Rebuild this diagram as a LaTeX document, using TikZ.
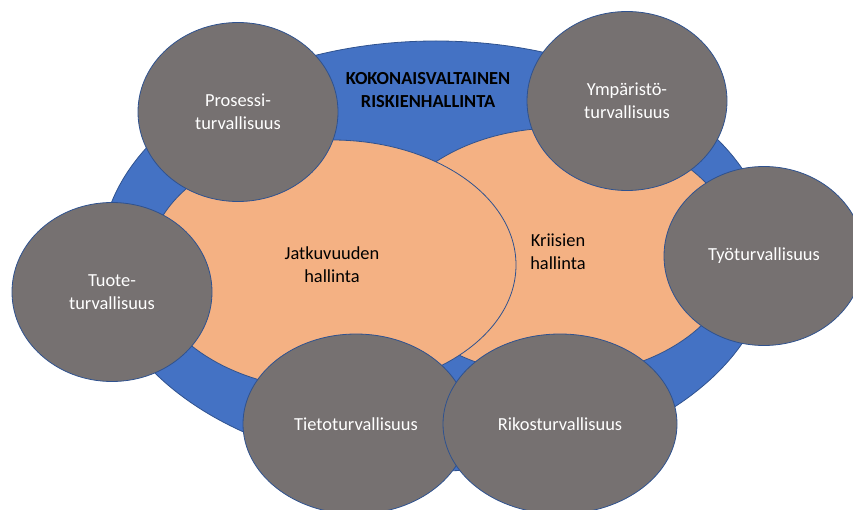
\documentclass[tikz,border=0pt]{standalone}
\usepackage{fontspec}
\setmainfont{Carlito}
\usetikzlibrary{shapes.geometric}

\definecolor{ringblue}{HTML}{4472C4}
\definecolor{edgeblue}{HTML}{2F528F}
\definecolor{areaorange}{HTML}{F4B183}
\definecolor{topicgray}{HTML}{767171}

\begin{document}
\begin{tikzpicture}[x=1pt, y=-1pt,
  every node/.style={font=\fontsize{18.4}{23}\selectfont},
  ovalbase/.style={ellipse, draw=edgeblue, line width=0.8pt, inner sep=0pt, align=center},
  outerzone/.style={ovalbase, fill=ringblue},
  areazone/.style={ovalbase, fill=areaorange, text=black},
  topiczone/.style={ovalbase, fill=topicgray, text=white, minimum width=200pt, minimum height=179pt}]
\useasboundingbox (0,0) rectangle (853,510);

% outer zone: enterprise-wide risk management
\node[outerzone, minimum width=670pt, minimum height=430pt] (whole) at (436,256) {};
\node[font=\fontsize{18.4}{23}\selectfont\bfseries, align=center] (title) at (428,90)
  {KOKONAISVALTAINEN\\RISKIENHALLINTA};

% overlapping management areas
\node[areazone, minimum width=356pt, minimum height=248pt] (crisis) at (558,252) {Kriisien\\hallinta};
\node[areazone, minimum width=368pt, minimum height=250pt] (cont) at (332,265) {Jatkuvuuden\\hallinta};

% individual security topics around the ring
\node[topiczone] (proc) at (238,112) {Prosessi-\\turvallisuus};
\node[topiczone] (env)  at (627,101) {Ympäristö-\\turvallisuus};
\node[topiczone] (work) at (764,256) {Työturvallisuus};
\node[topiczone] (prod) at (112,292) {Tuote-\\turvallisuus};
\node[topiczone, minimum width=226pt, minimum height=180pt] (info)  at (356,424) {Tietoturvallisuus};
\node[topiczone, minimum width=234pt, minimum height=180pt] (crime) at (560,424) {Rikosturvallisuus};
\end{tikzpicture}
\end{document}
